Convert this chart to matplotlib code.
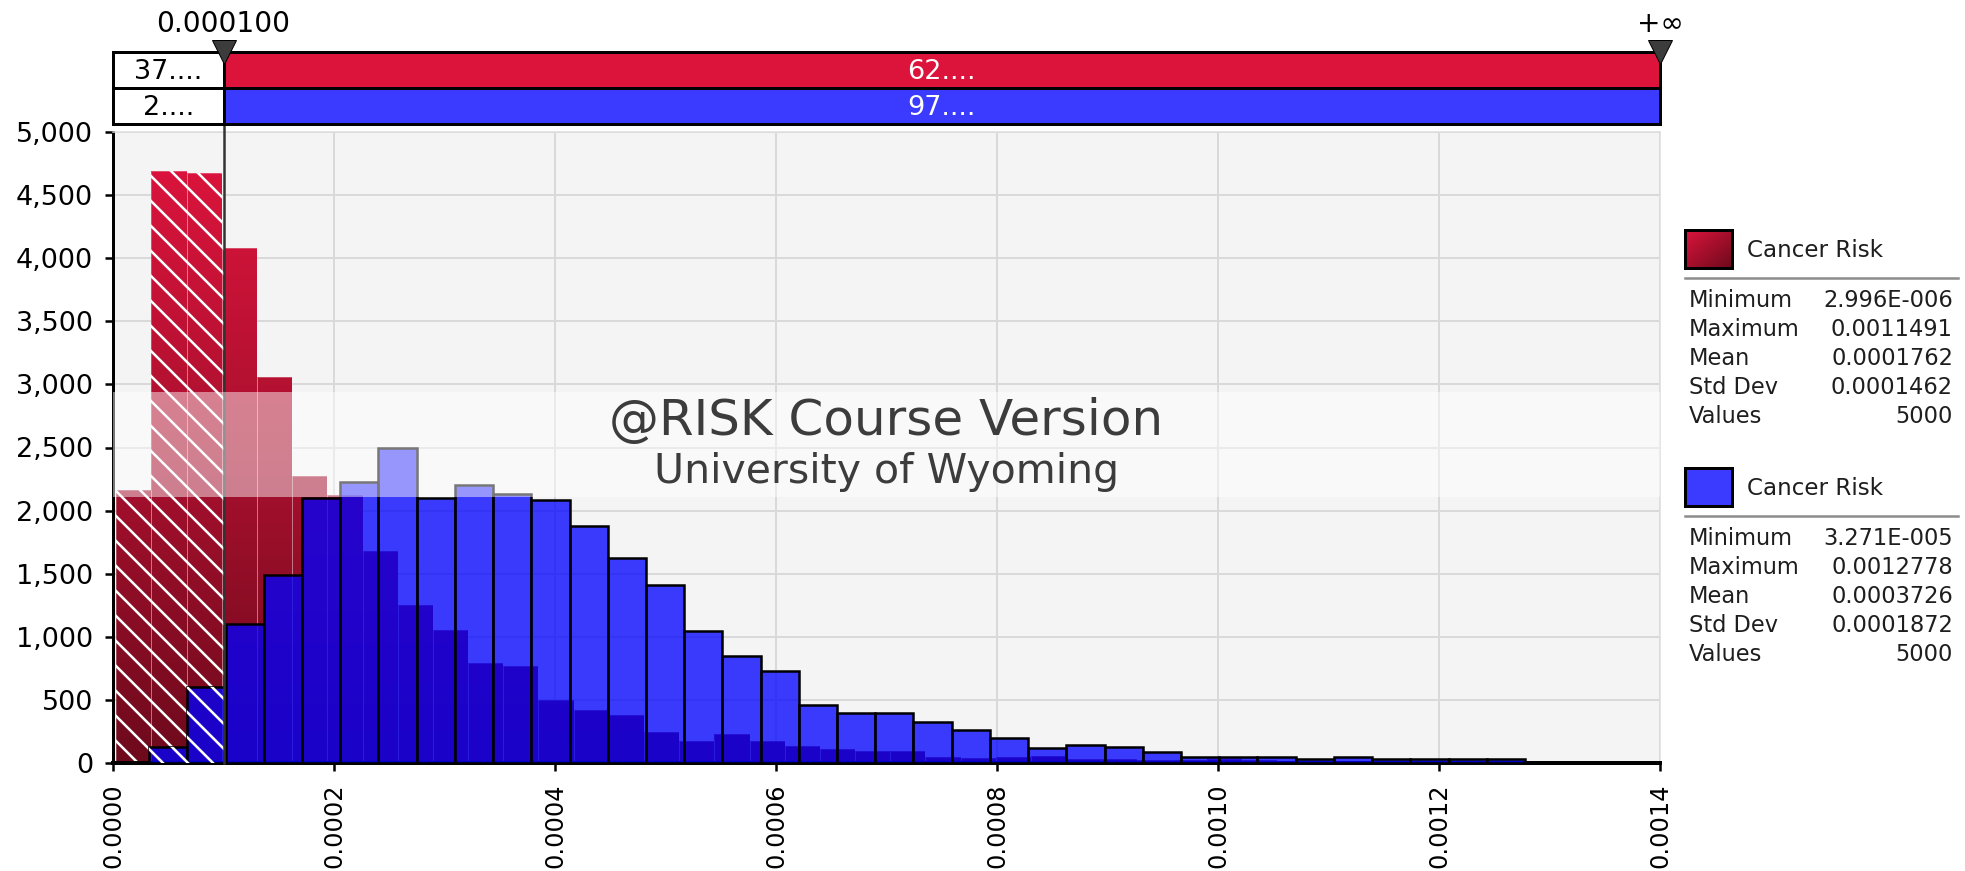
import numpy as np
import matplotlib
matplotlib.use('Agg')
import matplotlib.pyplot as plt
from matplotlib.colors import LinearSegmentedColormap
from matplotlib.patches import Rectangle
from matplotlib.path import Path
from matplotlib.lines import Line2D
from matplotlib.ticker import FuncFormatter, MultipleLocator

W, H, DPI = 1965, 871, 150


def px(v):
    # pixel size -> points
    return v * 72 / DPI


def fx(x):
    return x / W


def fy(y):
    return 1 - y / H


# ---- data (density) ----
red_min, red_max = 2.996e-6, 0.0011491
red_density = [2160, 4694, 4675, 4079, 3055, 2278, 2124, 1679, 1254, 1055,
               790, 772, 499, 419, 384, 247, 175, 231, 175, 135,
               111, 95, 95, 45, 40, 50, 55, 35, 35, 20,
               25, 35, 20, 15, 15, 10]

blue_min, blue_max = 3.271e-5, 0.0012778
blue_density = [125, 605, 1100, 1490, 2100, 2225, 2495, 2100, 2206, 2130,
                2087, 1876, 1625, 1410, 1048, 850, 730, 459, 400, 400,
                326, 265, 200, 121, 145, 123, 86, 46, 46, 46,
                33, 46, 30, 30, 30, 30]

cutoff = 0.0001
x_max = 0.0014
y_max = 5000

left_pct = ['37....', '2....']
right_pct = ['62....', '97....']

stat_names = ['Minimum', 'Maximum', 'Mean', 'Std Dev', 'Values']
red_stats = ['2.996E-006', '0.0011491', '0.0001762', '0.0001462', '5000']
blue_stats = ['3.271E-005', '0.0012778', '0.0003726', '0.0001872', '5000']
series_name = 'Cancer Risk'

RED = '#DC143C'
BLUE = '#3B3BFF'

plt.rcParams['font.family'] = ['DejaVu Sans']
plt.rcParams['hatch.linewidth'] = px(2.5)

fig = plt.figure(figsize=(W / DPI, H / DPI), dpi=DPI)
fig.patch.set_facecolor('white')

# ---- main histogram axes ----
ax = fig.add_axes([fx(113), fy(763), fx(1660 - 113), (763 - 132) / H])
ax.set_facecolor('#F4F4F4')

red_edges = np.linspace(red_min, red_max, len(red_density) + 1)
red_w = red_edges[1] - red_edges[0]
blue_edges = np.linspace(blue_min, blue_max, len(blue_density) + 1)
blue_w = blue_edges[1] - blue_edges[0]

red_bars = ax.bar(red_edges[:-1], red_density, width=red_w, align='edge',
                  facecolor='none', edgecolor=(1, 1, 1, 0.25), lw=px(1), zorder=2.1)

# vertical gradient for the red bars, clipped to the bar shapes
red_cmap = LinearSegmentedColormap.from_list('redgrad', ['#6E0A1C', '#A8102E', '#DC143C'])
grad = np.linspace(0, 1, 256).reshape(-1, 1)
im = ax.imshow(grad, extent=[0, x_max, 0, 4800], origin='lower', aspect='auto',
               cmap=red_cmap, interpolation='bilinear', zorder=2)
clip = Path.make_compound_path(*[b.get_path().transformed(b.get_patch_transform())
                                 for b in red_bars])
im.set_clip_path(clip, ax.transData)

blue_bars = ax.bar(blue_edges[:-1], blue_density, width=blue_w, align='edge',
                   facecolor=(0, 0, 1, 0.76), edgecolor='black', lw=px(2.5), zorder=3)

# white hatching left of the cutoff
for bars, z in ((red_bars, 2.3), (blue_bars, 3.3)):
    for b in bars:
        if b.get_x() >= cutoff:
            continue
        hp = Rectangle((b.get_x(), 0), b.get_width(), b.get_height(),
                       facecolor='none', edgecolor='white', hatch='\\\\', lw=0, zorder=z)
        ax.add_patch(hp)
        hp.set_clip_path(Rectangle((0, 0), cutoff, y_max, transform=ax.transData))

ax.axvline(cutoff, ymin=0, ymax=1 + 8 / 631, color='#333333', lw=px(2.5), zorder=4, clip_on=False)

# watermark band
ax.add_patch(Rectangle((0, (763 - 497) / 631), 1, (497 - 392) / 631, transform=ax.transAxes,
                       facecolor='white', alpha=0.47, lw=0, zorder=5))
ax.text(0.5, (763 - 435) / 631, '@RISK Course Version', transform=ax.transAxes,
        ha='center', va='baseline', fontsize=px(50), color='#3C3C3C', zorder=6)
ax.text(0.5, (763 - 483) / 631, 'University of Wyoming', transform=ax.transAxes,
        ha='center', va='baseline', fontsize=px(41), color='#3C3C3C', zorder=6)

ax.set_xlim(0, x_max)
ax.set_ylim(0, y_max)
ax.xaxis.set_major_locator(MultipleLocator(0.0002))
ax.yaxis.set_major_locator(MultipleLocator(500))
ax.xaxis.set_major_formatter(FuncFormatter(lambda v, p: f'{v:.4f}'))
ax.yaxis.set_major_formatter(FuncFormatter(lambda v, p: f'{v:,.0f}'))
ax.grid(True, color='#D9D9D9', lw=px(2), zorder=0.5)
ax.set_axisbelow(True)
ax.tick_params(axis='y', length=px(8), width=px(2.5), pad=px(12), labelsize=px(27),
               direction='out')
ax.tick_params(axis='x', length=px(8), width=px(2.5), pad=px(12), labelsize=px(24),
               direction='out', labelrotation=90)
for side in ('top', 'right'):
    ax.spines[side].set_color('#DDDDDD')
    ax.spines[side].set_linewidth(px(1.5))
ax.spines['left'].set_linewidth(px(3))
ax.spines['bottom'].set_linewidth(px(4))

# ---- top probability bar ----
axb = fig.add_axes([fx(113), fy(124), fx(1660 - 113), (124 - 52) / H])
axb.set_xlim(0, x_max)
axb.set_ylim(0, 2)
axb.axis('off')
for row, color in ((1, RED), (0, BLUE)):
    axb.add_patch(Rectangle((0, row), cutoff, 1, facecolor='white', edgecolor='black',
                            lw=px(3), clip_on=False))
    axb.add_patch(Rectangle((cutoff, row), x_max - cutoff, 1, facecolor=color,
                            edgecolor='black', lw=px(3), clip_on=False))
for row, lt, rt in ((1, left_pct[0], right_pct[0]), (0, left_pct[1], right_pct[1])):
    axb.text(cutoff / 2, row + 0.25, lt, ha='center', va='baseline',
             fontsize=px(27), color='black')
    axb.text((cutoff + x_max) / 2, row + 0.25, rt, ha='center', va='baseline',
             fontsize=px(27), color='white')
axb.plot([cutoff, x_max], [2, 2], 'v', ms=px(24), color='#3C3C3C', mec='black',
         mew=px(1), clip_on=False, zorder=5)
axb.text(cutoff, 2.556, f'{cutoff:.6f}', ha='center', va='baseline', fontsize=px(28))
axb.text(x_max, 2.556, '+\u221e', ha='center', va='baseline', fontsize=px(28))

# ---- legend / statistics panel ----
def swatch(top, kind):
    sa = fig.add_axes([fx(1685), fy(top + 38), fx(47), 38 / H])
    if kind == 'red':
        yy, xx = np.mgrid[0:1:40j, 0:1:40j]
        sa.imshow(xx + (1 - yy), cmap=LinearSegmentedColormap.from_list(
            'sw', ['#DC143C', '#6E0A1C']), aspect='auto', origin='lower')
    else:
        sa.set_facecolor(BLUE)
    sa.set_xticks([])
    sa.set_yticks([])
    for s in sa.spines.values():
        s.set_linewidth(px(3))
        s.set_color('black')


for top, kind, base, stats in ((230, 'red', 257, red_stats), (468, 'blue', 495, blue_stats)):
    swatch(top, kind)
    fig.text(fx(1747), fy(base), series_name, fontsize=px(23), va='baseline', color='#1E1E1E')
    fig.add_artist(Line2D([fx(1685), fx(1958)], [fy(base + 21), fy(base + 21)],
                          color='#8C8C8C', lw=px(2.5)))
    for i, (name, val) in enumerate(zip(stat_names, stats)):
        yb = base + 50 + i * 29
        fig.text(fx(1689), fy(yb), name, fontsize=px(22.5), va='baseline', color='#1E1E1E')
        fig.text(fx(1953), fy(yb), val, fontsize=px(22.5), va='baseline', ha='right',
                 color='#1E1E1E')

fig.savefig('out.png', dpi=DPI)
